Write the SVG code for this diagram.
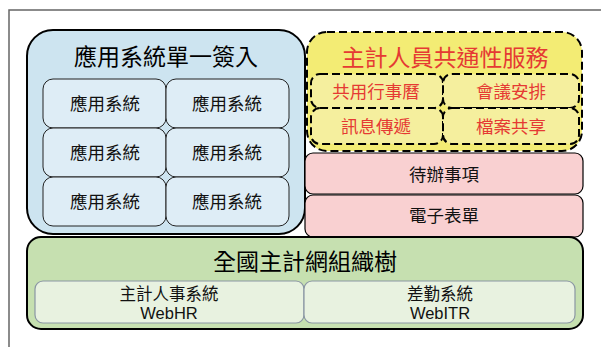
<svg xmlns="http://www.w3.org/2000/svg" width="601" height="347" viewBox="0 0 601 347">
<style>
text{font-family:"Liberation Sans","Noto Sans CJK TC",sans-serif;text-anchor:middle;dominant-baseline:central}
.t{font-size:23px;fill:#000}
.s{font-size:17.5px;fill:#111}
.g{font-size:16.5px;fill:#111}
.r{font-size:17.5px;fill:#e53a33}
.rt{font-size:23px;fill:#e53a33}
.blue{fill:#cde4f0;stroke:#000;stroke-width:2}
.bi{fill:#deedf6;stroke:#222;stroke-width:1}
.yel{fill:#f3ec74;stroke:#000;stroke-width:2;stroke-dasharray:8 4}
.yi{fill:#f5ef9e;stroke:#000;stroke-width:2;stroke-dasharray:8 4}
.pink{fill:#f9d0d1;stroke:#000;stroke-width:1.2}
.green{fill:#c6e0b0;stroke:#000;stroke-width:2}
.gi{fill:#e8f2e0;stroke:#8a96a3;stroke-width:1.2}
</style>
<rect width="601" height="347" fill="#fff"/>
<path d="M9,347 V10 H601" fill="none" stroke="#666" stroke-width="1.5"/>
<g id="sso">
<rect class="blue" x="27" y="30" width="278" height="204" rx="26"/>
<text class="t" x="166" y="57">應用系統單一簽入</text>
</g>
<g id="app1"><rect class="bi" x="43" y="79" width="123" height="49" rx="10"/><text class="s" x="105" y="104">應用系統</text></g>
<g id="app2"><rect class="bi" x="166" y="79" width="123" height="49" rx="10"/><text class="s" x="227" y="104">應用系統</text></g>
<g id="app3"><rect class="bi" x="43" y="128" width="123" height="49" rx="10"/><text class="s" x="105" y="153">應用系統</text></g>
<g id="app4"><rect class="bi" x="166" y="128" width="123" height="49" rx="10"/><text class="s" x="227" y="153">應用系統</text></g>
<g id="app5"><rect class="bi" x="43" y="177" width="123" height="49" rx="10"/><text class="s" x="105" y="202">應用系統</text></g>
<g id="app6"><rect class="bi" x="166" y="177" width="123" height="49" rx="10"/><text class="s" x="227" y="202">應用系統</text></g>
<g id="common">
<rect class="yel" x="307" y="32" width="275" height="119" rx="20"/>
<text class="rt" x="445" y="58">主計人員共通性服務</text>
</g>
<g id="calendar"><rect class="yi" x="311" y="74" width="132" height="34" rx="9"/><text class="r" x="376" y="92">共用行事曆</text></g>
<g id="meeting"><rect class="yi" x="443" y="74" width="136" height="34" rx="9"/><text class="r" x="511" y="92">會議安排</text></g>
<g id="message"><rect class="yi" x="311" y="108" width="132" height="36" rx="9"/><text class="r" x="376" y="127">訊息傳遞</text></g>
<g id="files"><rect class="yi" x="443" y="108" width="136" height="36" rx="9"/><text class="r" x="511" y="127">檔案共享</text></g>
<g id="todo"><rect class="pink" x="305" y="153" width="278" height="41" rx="8"/><text class="s" x="444" y="175">待辦事項</text></g>
<g id="eform"><rect class="pink" x="305" y="195" width="278" height="42" rx="8"/><text class="s" x="444" y="216">電子表單</text></g>
<g id="tree">
<rect class="green" x="27" y="237" width="556" height="92" rx="14"/>
<text class="t" x="305" y="262">全國主計網組織樹</text>
</g>
<g id="webhr"><rect class="gi" x="35" y="281" width="269" height="42" rx="8"/><text class="g" x="169" y="294">主計人事系統</text><text class="g" x="169" y="313">WebHR</text></g>
<g id="webitr"><rect class="gi" x="304" y="281" width="271" height="42" rx="8"/><text class="g" x="440" y="294">差勤系統</text><text class="g" x="440" y="313">WebITR</text></g>
<g id="connectors"></g>
</svg>
